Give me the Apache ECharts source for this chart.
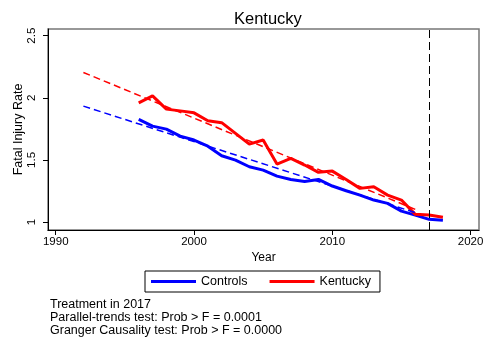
<!DOCTYPE html>
<html>
<head>
<meta charset="utf-8">
<script src="https://cdn.jsdelivr.net/npm/echarts@6/dist/echarts.min.js"></script>
<style>
html,body{margin:0;padding:0;background:#fff;}
#chart{width:486px;height:341px;}
</style>
</head>
<body>
<div id="chart"></div>
<script>
// Data
var years = [1996,1997,1998,1999,2000,2001,2002,2003,2004,2005,2006,2007,2008,2009,2010,2011,2012,2013,2014,2015,2016,2017,2018];
var controls = [1.826,1.772,1.748,1.692,1.66,1.611,1.534,1.499,1.445,1.418,1.37,1.343,1.327,1.343,1.29,1.252,1.217,1.177,1.15,1.088,1.056,1.022,1.014];
var kentucky = [1.96,2.016,1.909,1.895,1.879,1.815,1.80,1.714,1.627,1.66,1.467,1.512,1.459,1.40,1.41,1.343,1.271,1.284,1.217,1.177,1.062,1.056,1.038];
var trendYears = [1992, 2016];
var controlsTrend = [1.933, 1.076];
var kentuckyTrend = [2.204, 1.102];
var treatmentYear = 2017;
var xTicks = [1990, 2000, 2010, 2020];
var yTicks = [1, 1.5, 2, 2.5];
var notes = ['Treatment in 2017', 'Parallel-trends test: Prob > F = 0.0001', 'Granger Causality test: Prob > F = 0.0000'];

function pairs(xs, ys){ return xs.map(function(x,i){ return [x, ys[i]]; }); }

var FONT = 'Liberation Sans, Arial, sans-serif';
var chart = echarts.init(document.getElementById('chart'), null, {renderer:'canvas'});
chart.setOption({
  animation:false,
  backgroundColor:'#fff',
  title:{text:'Kentucky', left:229, top:6,
    textStyle:{fontFamily:FONT, fontSize:16.5, fontWeight:'normal', color:'#000'}},
  grid:{left:48, top:29, right:7, bottom:111, show:true, borderColor:'#777', borderWidth:1.5,
    containLabel:false, outerBoundsMode:'none'},
  legend:{
    data:['Controls','Kentucky'], left:145, top:271, width:240,
    borderColor:'#000', borderWidth:1, padding:[4,9,4,6],
    icon:'rect', itemWidth:45, itemHeight:3, itemGap:22,
    textStyle:{fontFamily:FONT, fontSize:12.5, color:'#000'}
  },
  xAxis:{
    type:'value', min:1989.44, max:2020.61,
    name:'Year', nameLocation:'middle', nameGap:22, nameMoveOverlap:false,
    nameTextStyle:{fontFamily:FONT, fontSize:12, color:'#000'},
    axisLine:{show:true, onZero:false, lineStyle:{color:'#000', width:1}},
    axisTick:{show:true, length:5, customValues:xTicks, lineStyle:{color:'#000'}},
    axisLabel:{customValues:xTicks, fontFamily:FONT, fontSize:11.5, color:'#000', margin:6,
      formatter:function(v){return String(v);}},
    splitLine:{show:false}
  },
  yAxis:{
    type:'value', min:0.936, max:2.554,
    name:'Fatal Injury Rate', nameLocation:'middle', nameGap:23, nameMoveOverlap:false,
    nameTextStyle:{fontFamily:FONT, fontSize:12.5, color:'#000'},
    axisLine:{show:true, onZero:false, lineStyle:{color:'#000', width:1}},
    axisTick:{show:true, length:5, customValues:yTicks, lineStyle:{color:'#000'}},
    axisLabel:{customValues:yTicks, rotate:90, fontFamily:FONT, fontSize:11.5, color:'#000', margin:10,
      formatter:function(v){return String(v);}},
    splitLine:{show:false}
  },
  series:[
    {name:'Controls', type:'line', data:pairs(years, controls), showSymbol:false, symbol:'none',
      lineStyle:{color:'#0000ff', width:3}, itemStyle:{color:'#0000ff'}, z:3},
    {name:'Kentucky', type:'line', data:pairs(years, kentucky), showSymbol:false, symbol:'none',
      lineStyle:{color:'#ff0000', width:3}, itemStyle:{color:'#ff0000'}, z:4,
      markLine:{silent:true, symbol:'none', label:{show:false},
        lineStyle:{color:'#000', width:1, type:[8,4]},
        data:[{xAxis:treatmentYear}]}},
    {name:'Controls trend', type:'line', data:pairs(trendYears, controlsTrend), showSymbol:false, symbol:'none',
      lineStyle:{color:'#0000ff', width:1.5, type:[7,4]}, z:5},
    {name:'Kentucky trend', type:'line', data:pairs(trendYears, kentuckyTrend), showSymbol:false, symbol:'none',
      lineStyle:{color:'#ff0000', width:1.5, type:[7,4]}, z:5}
  ],
  graphic:[
    {type:'text', left:50, top:298, style:{text:notes.join('\n'), fontFamily:FONT, fontSize:12.5, lineHeight:13, fill:'#000'}}
  ]
});
</script>
</body>
</html>
